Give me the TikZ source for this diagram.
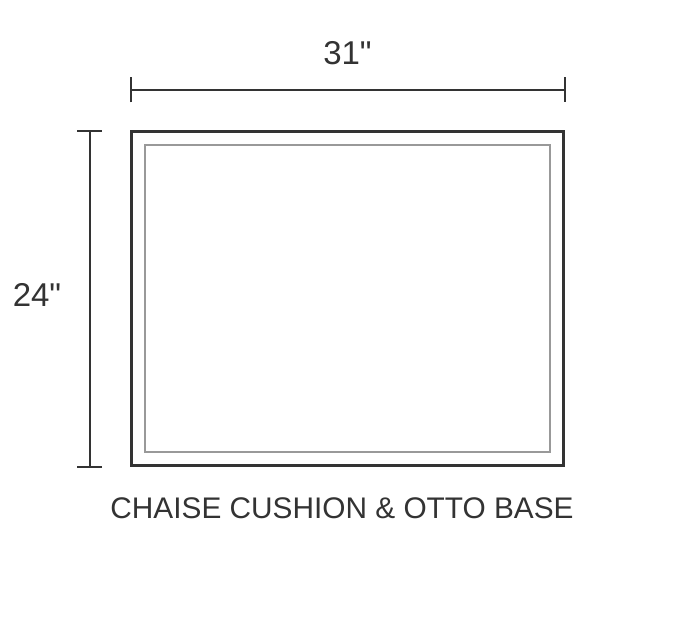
\documentclass[tikz,border=0pt]{standalone}
\usepackage{fontspec}
\newfontfamily\dimfont{Liberation Sans}
\usetikzlibrary{arrows.meta,positioning}
\definecolor{darkline}{HTML}{333333}
\definecolor{greyline}{HTML}{999999}
\tikzset{
    %Define style for boxes
    outerbox/.style={
           rectangle,
           draw=darkline, line width=3pt,
           minimum width=431.5pt,
           minimum height=333.5pt,
           inner sep=0pt},
    innerbox/.style={
           rectangle,
           draw=greyline, line width=2pt,
           minimum width=405pt,
           minimum height=306.5pt,
           inner sep=0pt},
    % Define dimension line style
    dim/.style={
           draw=darkline, line width=2pt,
           {Bar[width=25pt]}-{Bar[width=25pt]}},
    sizelabel/.style={
           font=\dimfont\fontsize{33}{33}\selectfont,
           text=darkline},
    caption/.style={
           font=\dimfont\fontsize{29.8}{30}\selectfont,
           text=darkline}
}
\begin{document}
\begin{tikzpicture}[x=1pt,y=-1pt]
\useasboundingbox (0,0) rectangle (694,636);

 %nodes
\node[outerbox](box) at (347.25,298.25){};
\node[innerbox](cushion) at (347.5,298.3){};

\coordinate (topL) at ([yshift=40pt]box.north west);
\coordinate (topR) at ([yshift=40pt,xshift=1.5pt]box.north east);
\coordinate (sideT) at ([xshift=-40.5pt]box.north west);
\coordinate (sideB) at ([xshift=-40.5pt,yshift=-1pt]box.south west);

\draw[dim] (topL) -- (topR);
\draw[dim] (sideT) -- (sideB);

\node[sizelabel](width) at (347.5,53){31"};
\node[sizelabel](depth) at (37,294.5){24"};
\node[caption](name) at (342,508){CHAISE CUSHION \& OTTO BASE};

\end{tikzpicture}
\end{document}
